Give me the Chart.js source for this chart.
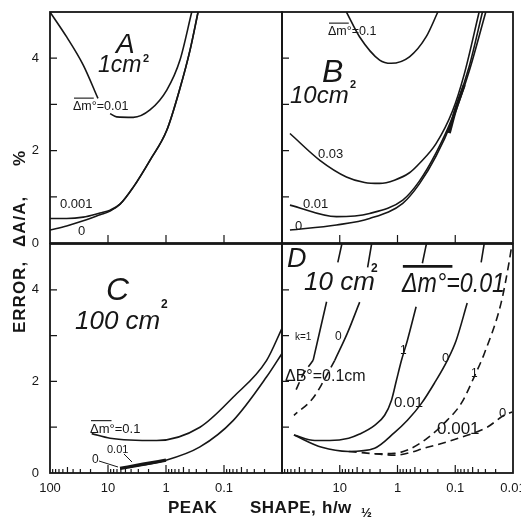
<!DOCTYPE html>
<html>
<head>
<meta charset="utf-8">
<title>Error vs peak shape</title>
<script src="https://cdn.jsdelivr.net/npm/chart.js@4.4.1/dist/chart.umd.min.js"></script>
<style>
  body { margin: 0; background: #fff; }
  #wrap { position: relative; width: 521px; height: 524px; overflow: hidden; background: #fff; }
  #wrap canvas { position: absolute; left: 0; top: 0; }
</style>
</head>
<body>
<div id="wrap">
  <canvas id="panelA" width="521" height="524"></canvas>
  <canvas id="panelB" width="521" height="524"></canvas>
  <canvas id="panelC" width="521" height="524"></canvas>
  <canvas id="panelD" width="521" height="524"></canvas>
</div>
<script>
// axis ticks
const xTickVals = [100, 10, 1, 0.1, 0.01];
const xLabelsC = ['100', '10', '1', '0.1', ''];
const xLabelsD = ['', '10', '1', '0.1', '0.01'];
const yTickVals = [0, 1, 2, 3, 4, 5];
const yLabels = ['0', '', '2', '', '4', ''];

// panel A, 1 cm2  (x = h/w1/2, y = error %)
const aX_m001 = [100, 51.6, 26.7, 14.9, 12.0, 9.2, 7.1, 3.66, 1.89, 0.97, 0.574, 0.36];
const aY_m001 = [5.0, 4.46, 3.85, 3.13, null, 2.80, 2.73, 2.72, 2.88, 3.31, 3.96, 5.0];
const aX_m0001 = [100, 51.6, 26.7, 13.7, 9.2, 6.2, 3.66, 1.89, 0.97, 0.574, 0.386, 0.28];
const aY_m0001 = [0.53, 0.53, 0.56, 0.65, 0.71, 0.84, 1.21, 1.79, 2.44, 3.35, 4.17, 5.0];
const aX_m0 = [100, 51.6, 26.7, 13.7, 9.2, 6.2, 3.66, 1.89, 0.97, 0.574, 0.386, 0.28];
const aY_m0 = [0.28, 0.37, 0.48, 0.61, 0.69, 0.84, 1.21, 1.79, 2.44, 3.35, 4.17, 5.0];

// panel B, 10 cm2
const bX_m01 = [7.67, 4.52, 2.04, 1.29, 0.62, 0.32, 0.2];
const bY_m01 = [5.0, 4.46, 3.96, 3.89, 4.03, 4.46, 5.0];
const bX_m003 = [72.8, 22.1, 7.67, 3.71, 2.04, 1.13, 0.62, 0.418, 0.215, 0.112, 0.07, 0.0386];
const bY_m003 = [2.37, 1.79, 1.43, 1.31, 1.29, 1.36, 1.52, 1.72, 2.15, 2.85, 3.65, 5.0];
const bX_m001 = [72.8, 11.4, 3.04, 0.81, 0.418, 0.215, 0.112, 0.0577, 0.0338];
const bY_m001 = [0.82, 0.57, 0.64, 0.93, 1.34, 1.95, 2.72, 3.81, 5.0];
const bX_m0 = [72.8, 11.4, 3.04, 0.81, 0.418, 0.215, 0.112, 0.0577, 0.0296];
const bY_m0 = [0.28, 0.39, 0.53, 0.86, 1.28, 1.88, 2.66, 3.71, 5.0];
const bX_heavy = [0.127, 0.098, 0.07];
const bY_heavy = [2.38, 2.90, 3.42];

// panel C, 100 cm2
const cX_m01 = [19.1, 9.2, 1.45, 0.26, 0.069, 0.0184, 0.01];
const cY_m01 = [0.86, 0.76, 0.71, 1.0, 1.66, 2.46, 3.16];
const cX_m001 = [6.2, 1.0, 0.26, 0.069, 0.0184, 0.01];
const cY_m001 = [0.10, 0.28, 0.57, 1.15, 2.10, 2.61];
const cX_m0 = [6.2, 2.5, 1.0];
const cY_m0 = [0.10, 0.19, 0.28];

// panel D, 10 cm2, dm = 0.01 ; curves by dB and k
const dX_b01k1 = [9.2, 10.8, 13.5, 16.9, 22.1, 28.9];
const dY_b01k1 = [5.0, 4.6, null, 3.74, 3.10, 2.46];
const dX_b01k1d = [28.9, 43.5, 59.7];
const dY_b01k1d = [2.46, 2.14, 1.76];
const dX_b01k0 = [2.81, 3.29, 4.0, 4.52, 7.28, 12.2];
const dY_b01k0 = [5.0, 4.49, null, 3.73, 3.07, 2.46];
const dX_b01k0d = [12.2, 19.6, 29.2, 62.1];
const dY_b01k0d = [2.46, 1.98, 1.63, 1.26];
const dX_b001k1 = [0.316, 0.371, 0.42, 0.476, 0.673, 0.853, 1.04, 1.27, 1.67, 2.49, 4.52, 7.0, 14.9, 27.0, 62.1];
const dY_b001k1 = [5.0, 4.58, null, 3.63, 2.90, 2.46, 2.03, 1.59, 1.26, 1.04, 0.85, 0.76, 0.71, 0.71, 0.83];
const dX_b001k0 = [0.0316, 0.0356, 0.045, 0.0621, 0.0961, 0.137, 0.230, 0.385, 0.673, 1.13, 2.49, 7.0, 20.4, 62.1];
const dY_b001k0 = [5.0, 4.6, null, 3.71, 2.90, 2.46, 1.96, 1.52, 1.15, 0.88, 0.54, 0.47, 0.56, 0.83];
const dX_b0001k1 = [2.49, 1.13, 0.673, 0.304, 0.155, 0.0788, 0.047, 0.0316, 0.0161, 0.0117, 0.0104];
const dY_b0001k1 = [0.42, 0.43, 0.50, 0.76, 1.09, 1.52, 2.10, 2.60, 3.71, 4.6, 5.0];
const dX_b0001k0 = [7.0, 2.49, 1.13, 0.304, 0.0788, 0.028, 0.0143, 0.0104];
const dY_b0001k0 = [0.47, 0.42, 0.39, 0.56, 0.78, 1.0, 1.26, 1.33];

const W = 521, H = 524;
const INK = '#161616';
const SANS = '"Liberation Sans", Arial, sans-serif';
const DASH = [8, 5];
Chart.defaults.font.family = SANS;
Chart.defaults.color = INK;

function pts(xs, ys) { return xs.map((x, i) => ({ x: x, y: ys[i] })); }
function curve(xs, ys, width, dash) {
  return {
    data: pts(xs, ys), borderColor: INK, borderWidth: width || 1.6, borderDash: dash || [],
    pointRadius: 0, fill: false, cubicInterpolationMode: 'monotone', spanGaps: false
  };
}

function xScale(labels) {
  return {
    type: 'logarithmic', reverse: true, min: 0.01, max: 100, display: !!labels,
    grid: { display: false, drawTicks: false }, border: { display: false },
    afterBuildTicks: s => { s.ticks = xTickVals.map(v => ({ value: v })); },
    afterFit: s => { if (labels) s.height = 30; s.paddingLeft = 0; s.paddingRight = 0; },
    ticks: { autoSkip: false, maxRotation: 0, padding: 8, font: { size: 13 },
      callback: (v, i) => labels ? labels[i] : '' }
  };
}
function yScale(show) {
  return {
    type: 'linear', min: 0, max: 5, display: show,
    grid: { display: false, drawTicks: false }, border: { display: false },
    afterBuildTicks: s => { s.ticks = yTickVals.map(v => ({ value: v })); },
    afterFit: s => { if (show) s.width = 50; s.paddingTop = 0; s.paddingBottom = 0; },
    ticks: { padding: 11, font: { size: 13 }, callback: (v, i) => yLabels[i] }
  };
}

// frame + inward tick marks
function frame(minor) {
  return {
    id: 'frame',
    afterDatasetsDraw(chart) {
      const { ctx, chartArea: a } = chart;
      const x = chart.scales.x, y = chart.scales.y;
      ctx.save();
      ctx.strokeStyle = INK;
      ctx.lineWidth = 1.8;
      ctx.strokeRect(a.left, a.top, a.right - a.left, a.bottom - a.top);
      ctx.lineWidth = 1.2;
      ctx.beginPath();
      yTickVals.forEach(v => {
        if (v <= 0 || v >= 5) return;
        const py = y.getPixelForValue(v);
        ctx.moveTo(a.left, py); ctx.lineTo(a.left + 7, py);
      });
      [10, 1, 0.1, 0.01].forEach(d => {
        for (let m = 1; m <= 9; m++) {
          const v = d * m;
          if (v >= 100 || v <= 0.01) continue;
          if (m > 1 && !minor) continue;
          const len = m === 1 ? 8 : (m === 5 ? 6 : 4);
          const px = x.getPixelForValue(v);
          ctx.moveTo(px, a.bottom); ctx.lineTo(px, a.bottom - len);
        }
      });
      ctx.stroke();
      ctx.restore();
    }
  };
}

function put(ctx, s, x, y, size, style) {
  ctx.font = (style ? style + ' ' : '') + size + 'px ' + SANS;
  ctx.fillText(s, x, y);
  return ctx.measureText(s).width;
}
// overlined delta-m label
function dm(ctx, x, y, size, rest, style, lw, extra) {
  const w = put(ctx, 'Δm', x, y, size, style);
  ctx.lineWidth = lw || 1.1;
  ctx.beginPath();
  ctx.moveTo(x + 1, y - size * 0.95); ctx.lineTo(x + w + 2 + (extra || 0), y - size * 0.95);
  ctx.stroke();
  put(ctx, '°' + rest, x + w, y, size, style);
}
function notes(fn) {
  return {
    id: 'notes',
    afterDraw(chart) {
      const ctx = chart.ctx;
      ctx.save();
      ctx.fillStyle = INK; ctx.strokeStyle = INK;
      ctx.textAlign = 'left'; ctx.textBaseline = 'alphabetic';
      fn(ctx);
      ctx.restore();
    }
  };
}

function makePanel(id, box, showY, xLabels, datasets, minor, drawNotes) {
  new Chart(document.getElementById(id), {
    type: 'line',
    data: { datasets: datasets },
    options: {
      responsive: false, animation: false, events: [],
      layout: { padding: {
        left: showY ? box.l - 50 : box.l, top: box.t,
        right: W - box.r, bottom: H - box.b - (xLabels ? 30 : 0) } },
      scales: { x: xScale(xLabels), y: yScale(showY) },
      plugins: { legend: { display: false }, tooltip: { enabled: false } }
    },
    plugins: [frame(minor), notes(drawNotes)]
  });
}

makePanel('panelA', { l: 50, t: 12, r: 282, b: 243 }, true, null, [
  curve(aX_m001, aY_m001),
  curve(aX_m0001, aY_m0001),
  curve(aX_m0, aY_m0)
], false, ctx => {
  put(ctx, 'A', 116, 53, 28, 'italic');
  put(ctx, '1cm', 98, 72, 23, 'italic');
  put(ctx, '2', 143, 62, 11, 'bold');
  dm(ctx, 73, 110, 12.5, '=0.01');
  put(ctx, '0.001', 60, 208, 13);
  put(ctx, '0', 78, 235, 13);
  // y title
  ctx.save();
  ctx.translate(25, 333);
  ctx.rotate(-Math.PI / 2);
  ctx.letterSpacing = '1px';
  put(ctx, 'ERROR,', 0, 0, 17, 'bold');
  put(ctx, 'ΔA/A,', 86, 0, 17, 'bold');
  put(ctx, '%', 167, 0, 17, 'bold');
  ctx.restore();
});

makePanel('panelB', { l: 282, t: 12, r: 513, b: 243 }, false, null, [
  curve(bX_m01, bY_m01),
  curve(bX_m003, bY_m003),
  curve(bX_m001, bY_m001),
  curve(bX_m0, bY_m0),
  curve(bX_heavy, bY_heavy, 3.2)
], false, ctx => {
  dm(ctx, 328, 35, 12.5, '=0.1');
  put(ctx, 'B', 322, 82, 32, 'italic');
  put(ctx, '10cm', 290, 103, 24, 'italic');
  put(ctx, '2', 350, 88, 11, 'bold');
  put(ctx, '0.03', 318, 158, 13);
  put(ctx, '0.01', 303, 208, 13);
  put(ctx, '0', 295, 230, 13);
});

makePanel('panelC', { l: 50, t: 244, r: 282, b: 473 }, true, xLabelsC, [
  curve(cX_m01, cY_m01),
  curve(cX_m001, cY_m001),
  curve(cX_m0, cY_m0, 3.4)
], true, ctx => {
  put(ctx, 'C', 106, 300, 32, 'italic');
  put(ctx, '100 cm', 75, 329, 26, 'italic');
  put(ctx, '2', 161, 308, 12, 'bold');
  dm(ctx, 90, 433, 13, '=0.1');
  put(ctx, '0.01', 107, 453, 11);
  put(ctx, '0', 92, 463, 12);
  ctx.lineWidth = 1;
  ctx.beginPath();
  ctx.moveTo(99, 461); ctx.lineTo(118, 467);
  ctx.moveTo(124, 454); ctx.lineTo(132, 462);
  ctx.stroke();
  // x title
  ctx.letterSpacing = '0.5px';
  put(ctx, 'PEAK', 168, 513, 17, 'bold');
  put(ctx, 'SHAPE,', 250, 513, 17, 'bold');
  put(ctx, 'h/w', 322, 513, 17, 'bold');
  put(ctx, '½', 361, 517, 13, 'bold');
});

makePanel('panelD', { l: 282, t: 244, r: 513, b: 473 }, false, xLabelsD, [
  curve(dX_b01k1, dY_b01k1),
  curve(dX_b01k1d, dY_b01k1d, 1.6, DASH),
  curve(dX_b01k0, dY_b01k0),
  curve(dX_b01k0d, dY_b01k0d, 1.6, DASH),
  curve(dX_b001k1, dY_b001k1),
  curve(dX_b001k0, dY_b001k0),
  curve(dX_b0001k1, dY_b0001k1, 1.6, DASH),
  curve(dX_b0001k0, dY_b0001k0, 1.6, DASH)
], true, ctx => {
  put(ctx, 'D', 287, 267, 27, 'italic');
  put(ctx, '10 cm', 304, 290, 26, 'italic');
  put(ctx, '2', 371, 272, 12, 'bold');
  ctx.save();
  ctx.translate(402, 292);
  ctx.scale(0.86, 1);
  dm(ctx, 0, 0, 27, '=0.01', 'italic', 2.6, 16);
  ctx.restore();
  put(ctx, 'k=1', 295, 340, 10);
  put(ctx, '0', 335, 340, 12);
  put(ctx, 'ΔB°=0.1cm', 285, 381, 16);
  put(ctx, '1', 400, 354, 12);
  put(ctx, '0.01', 394, 407, 15);
  put(ctx, '0', 442, 362, 13);
  put(ctx, '1', 471, 377, 12);
  put(ctx, '0.001', 437, 434, 17);
  put(ctx, '0', 499, 417, 13);
});
</script>
</body>
</html>
